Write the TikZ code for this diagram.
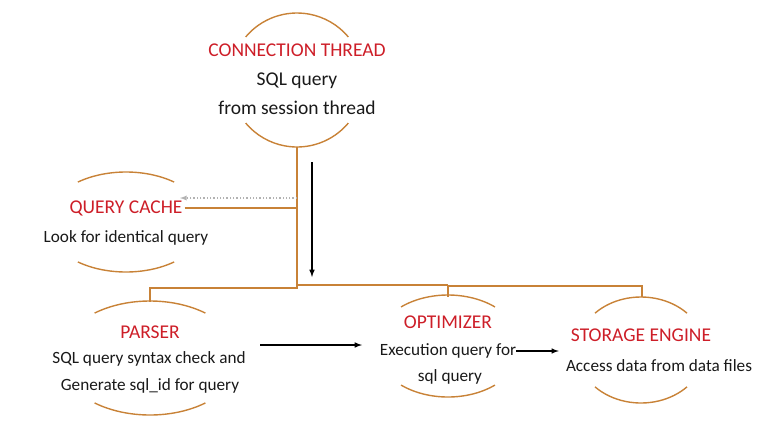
\documentclass[tikz,border=0pt]{standalone}
\usepackage{fontspec}
\setmainfont{Carlito}
\usetikzlibrary{calc}
\usetikzlibrary{arrows}
\definecolor{rim}{RGB}{200,130,55}
\definecolor{ttl}{RGB}{205,30,40}
\definecolor{txt}{RGB}{25,25,25}
\tikzset{title/.style={text=ttl,inner sep=0pt},
 note/.style={text=txt,inner sep=0pt,font=\fontsize{17.2}{20}\selectfont},
 bignote/.style={note,font=\fontsize{19.5}{23}\selectfont},
 bowl/.style={draw=rim,line width=1.4pt},
 trunk/.style={draw=rim,line width=2.2pt},
 branch/.style={draw=rim,line width=1.3pt},
 flow/.style={draw=black,line width=1.5pt,-latex}}

\begin{document}
\begin{tikzpicture}[x=1pt,y=-1pt,font=\fontsize{19.5}{23}\selectfont]
\useasboundingbox (0,0) rectangle (784,424);
% rims round each station
\draw[bowl] (297,80) ++(220:67) arc (220:320:67);
\draw[bowl] (297,80) ++(40:67) arc (40:140:67);
\draw[bowl] (126,222) ++(233:80 and 50) arc[start angle=233,end angle=307,x radius=80,y radius=50];
\draw[bowl] (126,222) ++(53:80 and 50) arc[start angle=53,end angle=127,x radius=80,y radius=50];
\draw[bowl] (150,358) ++(232:90 and 57) arc[start angle=232,end angle=308,x radius=90,y radius=57];
\draw[bowl] (150,358) ++(52:90 and 57) arc[start angle=52,end angle=128,x radius=90,y radius=57];
\draw[bowl] (448,346) ++(230:73 and 51) arc[start angle=230,end angle=310,x radius=73,y radius=51];
\draw[bowl] (448,346) ++(50:73 and 51) arc[start angle=50,end angle=130,x radius=73,y radius=51];
\draw[bowl] (641,350) ++(224:64 and 53) arc[start angle=224,end angle=316,x radius=64,y radius=53];
\draw[bowl] (641,350) ++(44:64 and 53) arc[start angle=44,end angle=136,x radius=64,y radius=53];

% texts
\node[title] (ct) at (297,50) {CONNECTION THREAD};
\node[bignote] (sq) at (297,81) {SQL query};
\node[bignote] (fs) at (297,108) {from session thread};
\node[title] (qc) at (126,208) {QUERY CACHE};
\node[note] (lf) at (126,238) {Look for identical query};
\node[title] (pa) at (150,332) {PARSER};
\node[note] (sy) at (149,359) {SQL query syntax check and};
\node[note] (ge) at (150,386) {Generate sql\_id for query};
\node[title] (op) at (448,322) {OPTIMIZER};
\node[note] (ex) at (448,351) {Execution query for};
\node[note] (sl) at (450,377) {sql query};
\node[title] (se) at (641,335) {STORAGE ENGINE};
\node[note] (ad) at (659,366) {Access data from data files};

% tree of lines
\coordinate (ctb) at (297,147);
\coordinate (hub) at (297,285);
\coordinate (patop) at (150,302);
\draw[trunk] (ctb) -- (hub) -- (hub -| op);
\draw[branch] (hub -| op) -- ++(0,1) -- ($(hub -| se)+(1,1)$) -- ++(0,11);
\draw[branch] (hub -| op) -- ++(0,12);
\draw[branch,shorten <=2pt] (qc.east) -- (qc.east -| hub);
\draw[branch] (hub) -- ++(0,3) -| (patop);

% arrows
\coordinate (qin) at (297,198);
\coordinate (qout) at (180,198);
\draw[gray!60,dotted,line width=1.3pt,-latex] (qin) -- (qout);
\coordinate (dtop) at (312,162);
\coordinate (dbot) at (312,277);
\draw[flow] (dtop) -- (dbot);
\coordinate (pfrom) at (260,345);
\coordinate (pto) at (362,345);
\draw[flow] (pfrom) -- (pto);
\draw[flow,shorten >=7pt] (ex.east) -- (ex.east -| ad.west);
\end{tikzpicture}
\end{document}
